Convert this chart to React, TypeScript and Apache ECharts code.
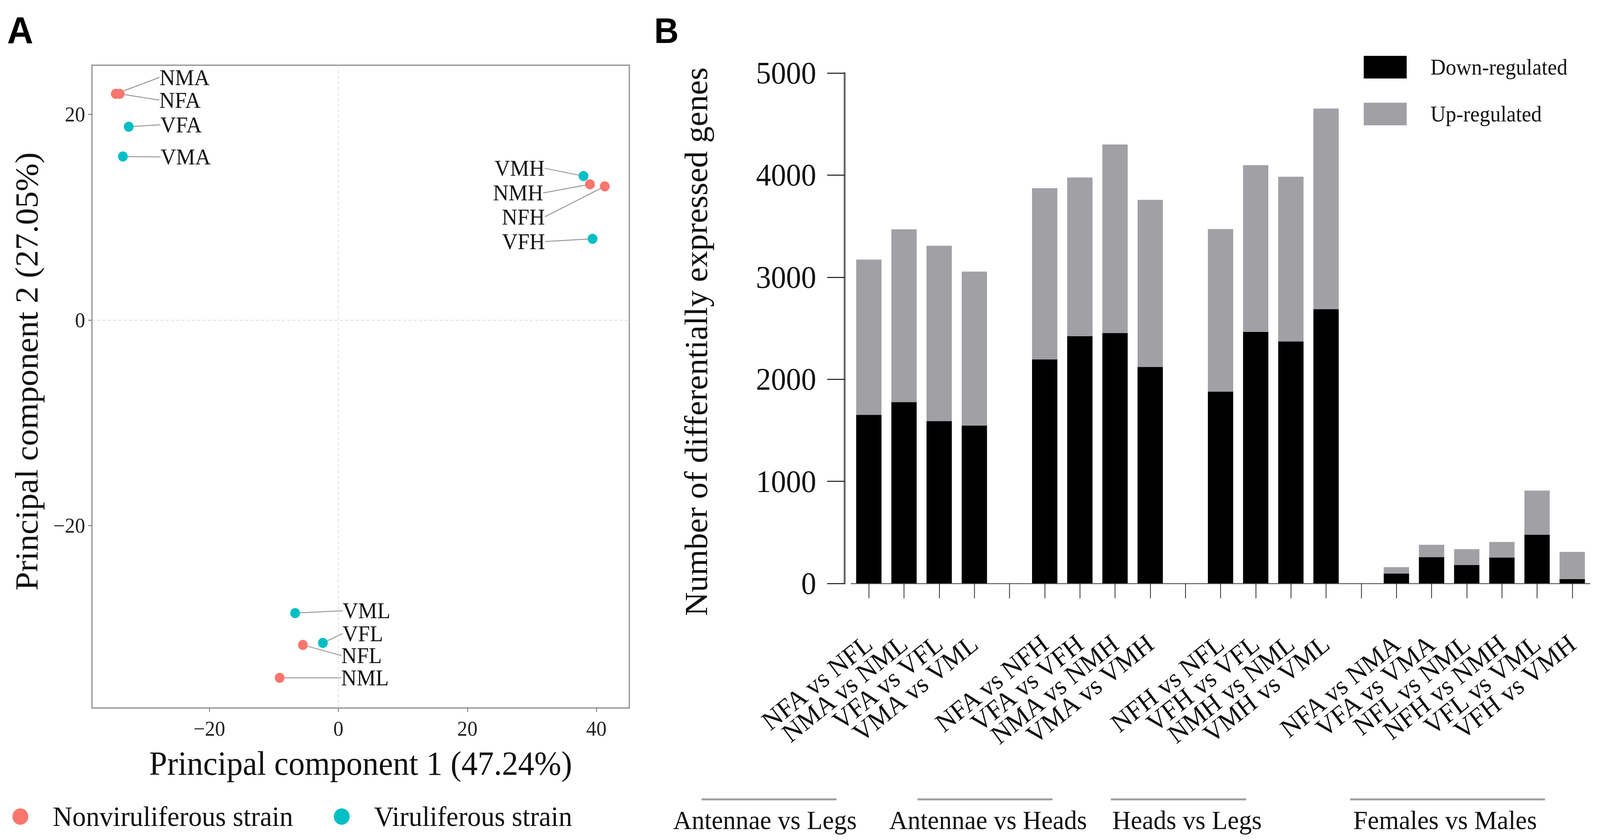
import React, { useEffect, useRef, useState } from 'react';
import * as echarts from 'echarts';

// ---------------- Panel A data (PCA) ----------------
const STRAINS = ['Nonviruliferous strain', 'Viruliferous strain'];
const N_SAMPLES = ['NMA', 'NFA', 'NMH', 'NFH', 'NFL', 'NML'];
const N_PC1 = [-34.5, -33.9, 39.0, 41.3, -5.5, -9.1];
const N_PC2 = [22.0, 22.0, 13.2, 13.0, -31.6, -34.8];
const V_SAMPLES = ['VFA', 'VMA', 'VMH', 'VFH', 'VML', 'VFL'];
const V_PC1 = [-32.5, -33.4, 38.0, 39.4, -6.7, -2.4];
const V_PC2 = [18.8, 15.9, 14.0, 7.9, -28.5, -31.4];
const PC1_TITLE = 'Principal component 1 (47.24%)';
const PC2_TITLE = 'Principal component 2 (27.05%)';

// ---------------- Panel B data (DEGs) ----------------
const COMPARISONS = [
  'NFA vs NFL', 'NMA vs NML', 'VFA vs VFL', 'VMA vs VML', '',
  'NFA vs NFH', 'VFA vs VFH', 'NMA vs NMH', 'VMA vs VMH', '',
  'NFH vs NFL', 'VFH vs VFL', 'NMH vs NML', 'VMH vs VML', '',
  'NFA vs NMA', 'VFA vs VMA', 'NFL vs NML', 'NFH vs NMH', 'VFL vs VML', 'VFH vs VMH',
];
const DOWN_REGULATED = [1652, 1777, 1590, 1547, null, 2195, 2422, 2453, 2121, null, 1879, 2465, 2371, 2687, null, 98, 258, 180, 254, 477, 43];
const UP_REGULATED = [1520, 1692, 1718, 1508, null, 1676, 1555, 1847, 1637, null, 1593, 1632, 1613, 1965, null, 62, 121, 156, 152, 433, 266];
const REG_NAMES = ['Down-regulated', 'Up-regulated'];
const GROUPS = ['Antennae vs Legs', 'Antennae vs Heads', 'Heads vs Legs', 'Females vs Males'];
const Y_TITLE_B = 'Number of differentially expressed genes';

// ---------------- layout (not data) ----------------
const W = 4246;
const H = 2151;
const SERIF = "'Liberation Serif', 'Times New Roman', serif";
const SANS = "'Liberation Sans', Arial, sans-serif";
// label offsets [dx, dy, side] for the repelled PCA labels
const LABEL_OFFSETS: Record<string, [number, number, string]> = {
  NMA: [103, -42, 'right'],
  NFA: [92, 16, 'right'],
  VFA: [71, -5, 'right'],
  VMA: [87, 1, 'right'],
  VMH: [-90, -20, 'left'],
  NMH: [-111, 22, 'left'],
  NFH: [-146, 78, 'left'],
  VFH: [-113, 7, 'left'],
  VML: [113, -6, 'right'],
  VFL: [39, -24, 'right'],
  NFL: [89, 27, 'right'],
  NML: [150, 0, 'right'],
};
const GROUP_LAYOUT = [
  { x1: 1862, x2: 2220, cx: 2030 },
  { x1: 2435, x2: 2793, cx: 2622 },
  { x1: 2948, x2: 3307, cx: 3150 },
  { x1: 3583, x2: 4100, cx: 3835 },
];

function minusFmt(v: number) {
  if (Math.abs(v % 20) > 1e-6) return '';
  return String(v).replace('-', '\u2212');
}

function scatterSeries(name: string, samples: string[], pc1: number[], pc2: number[], color: string, withZero: boolean) {
  const s: any = {
    type: 'scatter',
    name,
    xAxisIndex: 0,
    yAxisIndex: 0,
    symbolSize: 26,
    itemStyle: { color, opacity: 1 },
    data: samples.map((n, i) => ({
      name: n,
      value: [pc1[i], pc2[i]],
      label: { position: LABEL_OFFSETS[n][2] },
    })),
    label: {
      show: true,
      formatter: '{b}',
      fontFamily: SERIF,
      fontSize: 57,
      color: '#111',
      distance: 0,
    },
    labelLine: { show: true, lineStyle: { color: '#9a9a9a', width: 2.5 } },
    labelLayout: (p: any) => {
      const o = LABEL_OFFSETS[samples[p.dataIndex]];
      return { dx: o[0], dy: o[1] };
    },
    emphasis: { disabled: true },
  };
  if (withZero) {
    s.markLine = {
      silent: true,
      symbol: 'none',
      label: { show: false },
      lineStyle: { type: [8, 6], color: '#dcdcdc', width: 2 },
      data: [{ xAxis: 0 }, { yAxis: 0 }],
    };
  }
  return s;
}

export default function App() {
  const ref = useRef<HTMLDivElement>(null);
  const [scale, setScale] = useState<[number, number]>([1, 1]);

  useEffect(() => {
    const vw = document.documentElement.clientWidth || window.innerWidth || W;
    const vh = window.innerHeight || H;
    const sx = Math.min(1, vw / W);
    const sy = Math.min(1, vh / H);
    setScale([sx, sy]);
    document.body.style.margin = '0';
    document.body.style.overflow = 'hidden';
  }, []);

  useEffect(() => {
    if (!ref.current) return;
    const chart = echarts.init(ref.current, null, { renderer: 'svg' });
    const option: any = {
      animation: false,
      backgroundColor: '#ffffff',
      textStyle: { fontFamily: SERIF },
      grid: [
        { left: 244, top: 167, width: 1426, height: 1646, show: true, borderColor: '#8a8a8a', borderWidth: 3, backgroundColor: 'transparent' },
        { left: 2259, top: 187, width: 1960, height: 1307 },
      ],
      xAxis: [
        {
          gridIndex: 0, type: 'value', min: -38.2, max: 45.1, splitNumber: 4,
          axisLine: { show: false, onZero: false },
          axisTick: { show: true, length: 10, lineStyle: { color: '#666', width: 2 } },
          axisLabel: { formatter: minusFmt, fontFamily: SERIF, fontSize: 54, color: '#222', margin: 26, showMinLabel: false, showMaxLabel: false },
          splitLine: { show: false },
          name: PC1_TITLE, nameLocation: 'middle', nameGap: 99,
          nameTextStyle: { fontFamily: SERIF, fontSize: 86, color: '#111' },
        },
        {
          gridIndex: 1, type: 'category', data: COMPARISONS,
          axisLine: { show: true, onZero: false, lineStyle: { color: '#777', width: 3 } },
          axisTick: { show: true, alignWithLabel: true, interval: 0, length: 38, lineStyle: { color: '#222', width: 2 } },
          axisLabel: { interval: 0, rotate: 38, margin: 145, fontFamily: SERIF, fontSize: 68, color: '#111', hideOverlap: false },
          splitLine: { show: false },
        },
      ],
      yAxis: [
        {
          gridIndex: 0, type: 'value', min: -37.73, max: 24.78, splitNumber: 3,
          axisLine: { show: false, onZero: false },
          axisTick: { show: true, length: 10, lineStyle: { color: '#666', width: 2 } },
          axisLabel: { formatter: minusFmt, fontFamily: SERIF, fontSize: 54, color: '#222', margin: 18, showMinLabel: false, showMaxLabel: false },
          splitLine: { show: false },
        },
        {
          gridIndex: 1, type: 'value', min: 0, max: 5000, interval: 1000, offset: 18,
          axisLine: { show: true, onZero: false, lineStyle: { color: '#666', width: 5 } },
          axisTick: { show: true, length: 46, lineStyle: { color: '#111', width: 2.5 } },
          axisLabel: { formatter: (v: number) => String(v), fontFamily: SERIF, fontSize: 80, color: '#111', margin: 75 },
          splitLine: { show: false },
        },
      ],
      legend: [
        {
          data: STRAINS, left: 33, top: 2055, orient: 'horizontal', icon: 'circle',
          itemWidth: 42, itemHeight: 42, itemGap: 108, padding: 0,
          textStyle: { fontFamily: SERIF, fontSize: 72, color: '#111', padding: [0, 0, 0, 60] },
        },
        {
          data: REG_NAMES, left: 3619, top: 143, orient: 'vertical', icon: 'rect',
          itemWidth: 114, itemHeight: 58, itemGap: 62, padding: 0,
          textStyle: { fontFamily: SERIF, fontSize: 56, color: '#111', padding: [0, 0, 0, 58] },
        },
      ],
      series: [
        scatterSeries(STRAINS[0], N_SAMPLES, N_PC1, N_PC2, '#F8766D', true),
        scatterSeries(STRAINS[1], V_SAMPLES, V_PC1, V_PC2, '#00BFC4', false),
        {
          type: 'bar', name: REG_NAMES[0], xAxisIndex: 1, yAxisIndex: 1, stack: 'deg',
          data: DOWN_REGULATED, barWidth: '72%', itemStyle: { color: '#000000' },
        },
        {
          type: 'bar', name: REG_NAMES[1], xAxisIndex: 1, yAxisIndex: 1, stack: 'deg',
          data: UP_REGULATED, barWidth: '72%', itemStyle: { color: '#a1a1a5' },
        },
      ],
      graphic: [
        { type: 'text', left: 19, top: 30, style: { text: 'A', font: `bold 96px ${SANS}`, fill: '#000' } },
        { type: 'text', left: 1736, top: 34, style: { text: 'B', font: `bold 90px ${SANS}`, fill: '#000' } },
        {
          type: 'text', x: 71, y: 951, rotation: Math.PI / 2,
          style: { text: PC2_TITLE, fontFamily: SERIF, fontSize: 86, fill: '#111', textAlign: 'center', textVerticalAlign: 'middle' },
        },
        {
          type: 'text', x: 1848, y: 875, rotation: Math.PI / 2,
          style: { text: Y_TITLE_B, fontFamily: SERIF, fontSize: 85, fill: '#111', textAlign: 'center', textVerticalAlign: 'middle' },
        },
        ...GROUP_LAYOUT.map((g) => ({
          type: 'line', shape: { x1: g.x1, y1: 2047, x2: g.x2, y2: 2047 },
          style: { stroke: '#9c9c9c', lineWidth: 5 },
        })),
        ...GROUP_LAYOUT.map((g, i) => ({
          type: 'text', x: g.cx, y: 2100,
          style: { text: GROUPS[i], fontFamily: SERIF, fontSize: 68, fill: '#111', textAlign: 'center', textVerticalAlign: 'middle' },
        })),
      ],
    };
    chart.setOption(option);
    return () => chart.dispose();
  }, []);

  return (
    <div style={{ position: 'fixed', left: 0, top: 0, width: W * scale[0], height: H * scale[1], overflow: 'hidden', background: '#fff' }}>
      <div
        ref={ref}
        style={{
          position: 'absolute', left: 0, top: 0, width: W, height: H, background: '#fff',
          transform: `scale(${scale[0]}, ${scale[1]})`, transformOrigin: '0 0',
        }}
      />
    </div>
  );
}
